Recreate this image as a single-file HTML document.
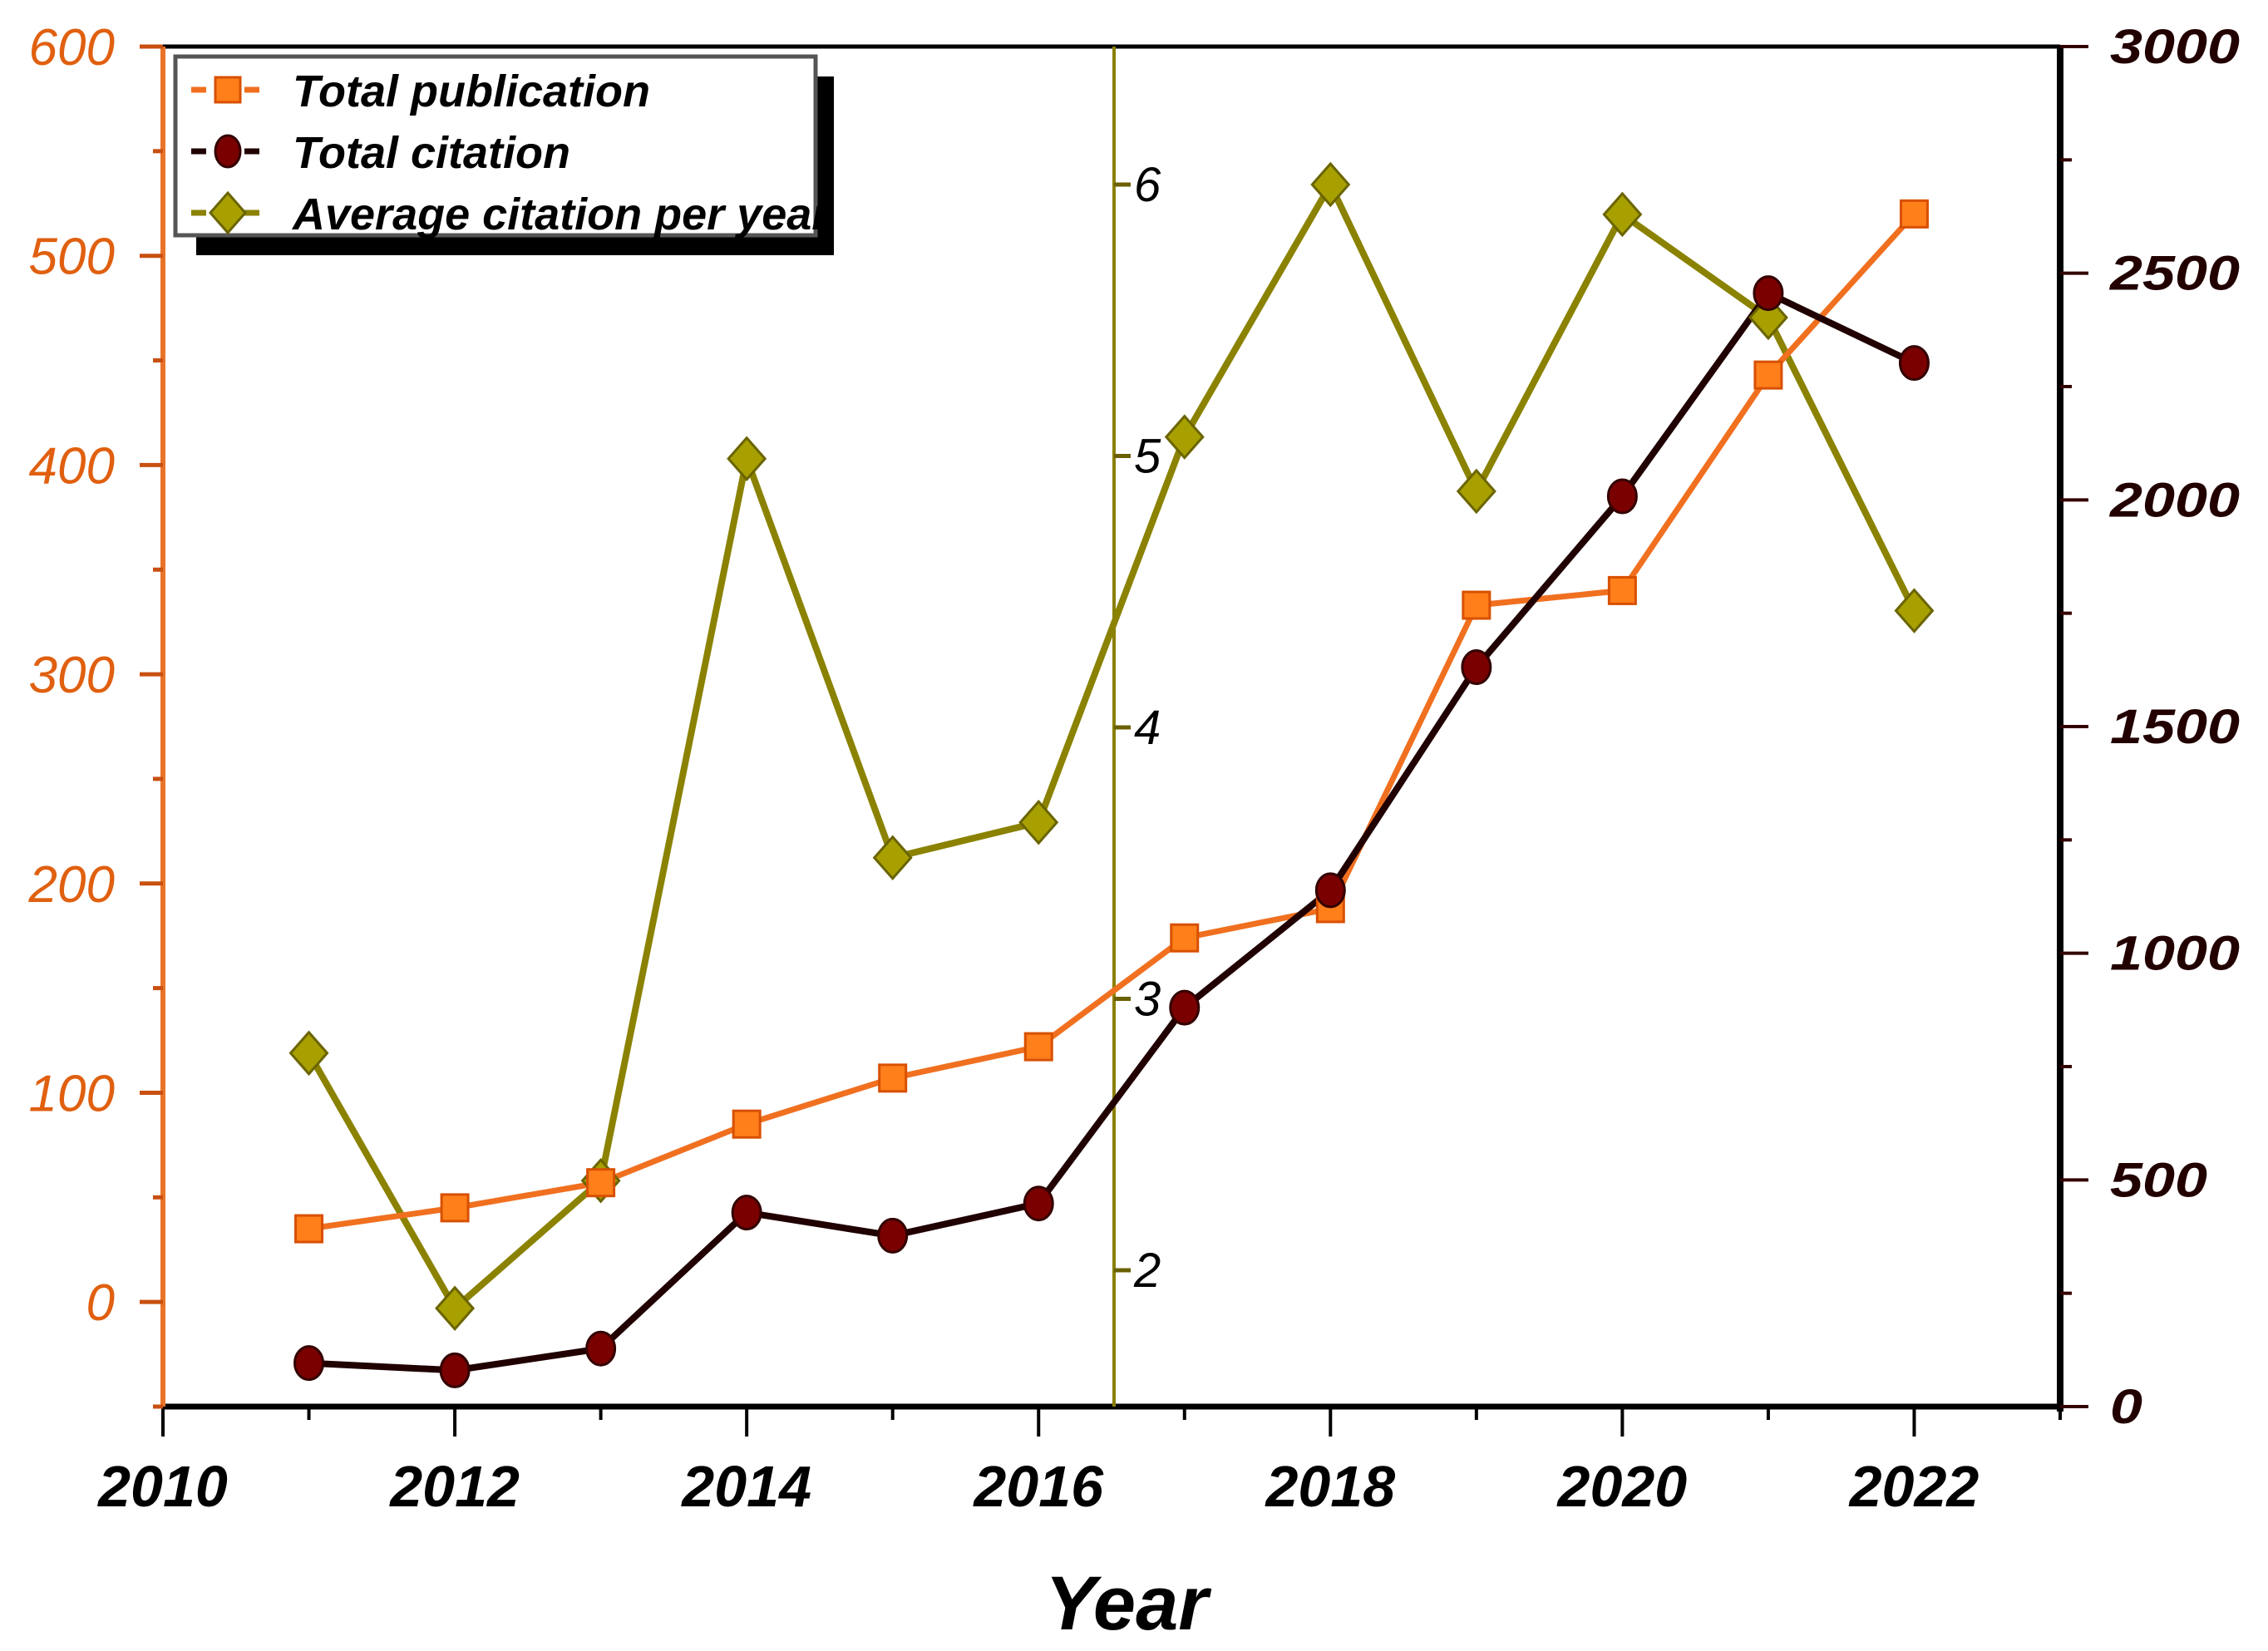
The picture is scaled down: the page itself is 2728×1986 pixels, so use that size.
<!DOCTYPE html>
<html><head><meta charset="utf-8"><style>
html,body{margin:0;padding:0;background:#fff;}
svg{display:block;}
text{font-family:"Liberation Sans",sans-serif;}
</style></head><body>
<svg id="chart" width="2728" height="1986" viewBox="0 0 2728 1986" xmlns="http://www.w3.org/2000/svg">
<g id="axes"></g><g id="series"></g><g id="legend"></g>
</svg>
<script>
const years = [2011,2012,2013,2014,2015,2016,2017,2018,2019,2020,2021,2022];
const publications = [35,45,57,85,107,122,174,188,333,340,443,520];
const citations = [96,80,128,428,377,448,880,1139,1631,2008,2456,2302];
const avgCitations = [2.80,1.86,2.33,4.99,3.52,3.65,5.07,6.0,4.87,5.89,5.51,4.43];
const xTicks = [2010,2012,2014,2016,2018,2020,2022];
const leftTicks = [0,100,200,300,400,500,600];
const rightTicks = [0,500,1000,1500,2000,2500,3000];
const midTicks = [2,3,4,5,6];

const NS="http://www.w3.org/2000/svg";
const X0=196, X1=2478, YT=56, YB=1692, XM=1340;
const xS=v=>X0+(v-2010)*(X1-X0)/13;
const yL=v=>YT+(600-v)*(YB-YT)/650;
const yR=v=>YB-v*(YB-YT)/3000;
const yM=v=>1528-(v-2)*326.5;
function mk(parent,tag,attrs,text){const e=document.createElementNS(NS,tag);for(const k in attrs)e.setAttribute(k,attrs[k]);if(text!==undefined)e.textContent=text;parent.appendChild(e);return e;}
const axes=document.getElementById('axes'), ser=document.getElementById('series'), leg=document.getElementById('legend');

let e;
e=mk(axes,'line',{x1:X0,y1:YT,x2:X1,y2:YT,stroke:'#000','stroke-width':5});

e=mk(axes,'line',{x1:X0,y1:YB,x2:X1+4,y2:YB,stroke:'#000','stroke-width':7});

e=mk(axes,'line',{x1:X0,y1:YT,x2:X0,y2:YB,stroke:'#e8742a','stroke-width':6});

e=mk(axes,'line',{x1:X1,y1:YT,x2:X1,y2:YB+6,stroke:'#000','stroke-width':8});

e=mk(axes,'line',{x1:XM,y1:YT,x2:XM,y2:YB,stroke:'#8a8000','stroke-width':4});


for(let y=2010;y<=2023;y++){
  e=mk(axes,'line',{x1:xS(y),y1:YB,x2:xS(y),y2:YB+(y%2===0?36:16),stroke:'#000','stroke-width':4});
  
}
xTicks.forEach(t=>{
  e=mk(axes,'text',{x:xS(t),y:1812,'font-size':70,'font-weight':'bold','font-style':'italic','text-anchor':'middle',fill:'#000'},String(t));
  
});
e=mk(axes,'text',{x:1355,y:1960,'font-size':92,'font-weight':'bold','font-style':'italic','text-anchor':'middle',fill:'#000'},'Year');


for(let v=-50;v<=600;v+=50){
  e=mk(axes,'line',{x1:X0,y1:yL(v),x2:X0-(v%100===0?28:12),y2:yL(v),stroke:'#c85010','stroke-width':5});
  
}
leftTicks.forEach(t=>{
  e=mk(axes,'text',{x:138,y:yL(t)+22,'font-size':62,'font-style':'italic','text-anchor':'end',fill:'#e06010'},String(t));
  
});
for(let v=0;v<=3000;v+=250){
  e=mk(axes,'line',{x1:X1,y1:yR(v),x2:X1+(v%500===0?34:14),y2:yR(v),stroke:'#300','stroke-width':4});
  
}
rightTicks.forEach(t=>{
  e=mk(axes,'text',{x:2538,y:yR(t)+20,'font-size':58,'font-style':'italic','font-weight':'bold',fill:'#200',textLength:(String(t).length*39),lengthAdjust:'spacingAndGlyphs'},String(t));
  
});
midTicks.forEach(t=>{
  e=mk(axes,'line',{x1:XM,y1:yM(t),x2:XM+20,y2:yM(t),stroke:'#6a6000','stroke-width':5});
  
  e=mk(axes,'text',{x:XM+24,y:yM(t)+20,'font-size':58,'font-style':'italic',fill:'#000'},String(t));
  
});

function path(vals,yf){return vals.map((v,i)=>(i?'L':'M')+xS(years[i])+' '+yf(v)).join(' ');}
e=mk(ser,'path',{d:path(avgCitations,yM),fill:'none',stroke:'#8a8200','stroke-width':8});

e=mk(ser,'path',{d:path(publications,yL),fill:'none',stroke:'#f07020','stroke-width':7});

e=mk(ser,'path',{d:path(citations,yR),fill:'none',stroke:'#200000','stroke-width':8});

avgCitations.forEach((v,i)=>{const x=xS(years[i]),y=yM(v);
  e=mk(ser,'path',{d:`M${x} ${y-25}L${x+22} ${y}L${x} ${y+25}L${x-22} ${y}Z`,fill:'#a8a000',stroke:'#6a6400','stroke-width':3});
  
});
publications.forEach((v,i)=>{const x=xS(years[i]),y=yL(v);
  e=mk(ser,'rect',{x:x-16,y:y-16,width:32,height:32,fill:'#ff7f1a',stroke:'#d85000','stroke-width':3});
  
});
citations.forEach((v,i)=>{const x=xS(years[i]),y=yR(v);
  e=mk(ser,'ellipse',{cx:x,cy:y,rx:17,ry:20,fill:'#7a0000',stroke:'#300','stroke-width':3});
  
});

e=mk(leg,'rect',{x:236,y:92,width:767,height:215,fill:'#000'});

e=mk(leg,'rect',{x:211,y:68,width:770,height:215,fill:'#fff',stroke:'#555','stroke-width':5});

const legY=[108,182,256];
const legNames=['Total publication','Total citation','Average citation per year'];
const legCol=['#f07020','#200000','#8a8200'];
legNames.forEach((n,i)=>{const y=legY[i];
  e=mk(leg,'line',{x1:230,y1:y,x2:322,y2:y,stroke:legCol[i],'stroke-width':7,'stroke-dasharray':'18 14'});
  
  if(i===0){e=mk(leg,'rect',{x:259,y:y-15,width:30,height:30,fill:'#ff7f1a',stroke:'#d85000','stroke-width':3});}
  else if(i===1){e=mk(leg,'ellipse',{cx:274,cy:y,rx:15,ry:19,fill:'#7a0000',stroke:'#300','stroke-width':3});}
  else{e=mk(leg,'path',{d:`M274 ${y-24}L295 ${y}L274 ${y+24}L253 ${y}Z`,fill:'#a8a000',stroke:'#6a6400','stroke-width':3});}
  
  e=mk(leg,'text',{x:352,y:y+20,'font-size':54,'font-weight':'bold','font-style':'italic',fill:'#000'},n);
  
});
</script>
</body></html>
